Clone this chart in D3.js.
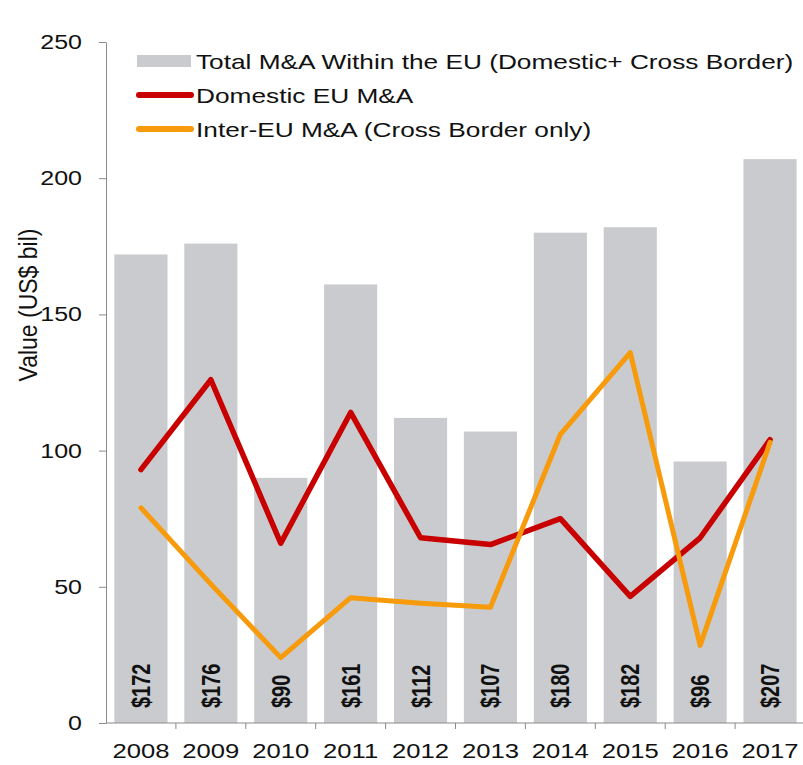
<!DOCTYPE html>
<html>
<head>
<meta charset="utf-8">
<script src="https://cdn.jsdelivr.net/npm/d3@7"></script>
<style>
  body { margin: 0; background: #fff; }
  text { font-family: "Liberation Sans", Arial, sans-serif; fill: #111; }
</style>
</head>
<body>
<div id="chart"></div>
<script>
const years = ["2008", "2009", "2010", "2011", "2012", "2013", "2014", "2015", "2016", "2017"];
const totalValues = [172, 176, 90, 161, 112, 107, 180, 182, 96, 207];
const domesticValues = [93, 126, 66, 114, 68, 65.5, 75, 46.5, 68, 104];
const interEuValues = [79, 51, 24, 46, 44, 42.5, 106, 136, 28.5, 103];
const yTicks = [0, 50, 100, 150, 200, 250];
const seriesNames = [
  "Total M&A Within the EU (Domestic+ Cross Border)",
  "Domestic EU M&A",
  "Inter-EU M&A (Cross Border only)"
];

const W = 803, H = 765;
const SX = 1.25; // source picture is stretched sideways

const barColor = "#c9cbce";
const red = "#c80000";
const orange = "#f79a0c";
const axisColor = "#8a8a8a";

const svg = d3.select("#chart")
  .append("svg")
  .attr("width", W)
  .attr("height", H);

const x = d3.scaleBand()
  .domain(years)
  .range([106, 805])
  .paddingInner(0.24)
  .paddingOuter(0.12);

const y = d3.scaleLinear()
  .domain([0, 250])
  .range([723, 42]);

// bars
svg.selectAll("rect.bar")
  .data(years)
  .enter()
  .append("rect")
  .attr("class", "bar")
  .attr("x", d => x(d))
  .attr("y", (d, i) => y(totalValues[i]))
  .attr("width", x.bandwidth())
  .attr("height", (d, i) => y(0) - y(totalValues[i]))
  .attr("fill", barColor);

// value labels inside bars
svg.selectAll("text.val")
  .data(years)
  .enter()
  .append("text")
  .attr("class", "val")
  .attr("transform", d => `translate(${x(d) + x.bandwidth() / 2},708) scale(${SX},1) rotate(-90)`)
  .attr("dy", "0.36em")
  .style("font-size", "20px")
  .style("font-weight", "bold")
  .text((d, i) => "$" + totalValues[i]);

// lines
const line = d3.line()
  .x(d => x(d[0]) + x.bandwidth() / 2)
  .y(d => y(d[1]));

svg.append("path")
  .datum(years.map((d, i) => [d, domesticValues[i]]))
  .attr("d", line)
  .attr("fill", "none")
  .attr("stroke", red)
  .attr("stroke-width", 5.5)
  .attr("stroke-linejoin", "round")
  .attr("stroke-linecap", "round");

svg.append("path")
  .datum(years.map((d, i) => [d, interEuValues[i]]))
  .attr("d", line)
  .attr("fill", "none")
  .attr("stroke", orange)
  .attr("stroke-width", 5)
  .attr("stroke-linejoin", "round")
  .attr("stroke-linecap", "round");

// y axis
const yAxis = svg.append("g")
  .attr("transform", "translate(106,0)")
  .call(d3.axisLeft(y).tickValues(yTicks).tickSize(7).tickSizeOuter(0));

yAxis.select(".domain").attr("stroke", axisColor);
yAxis.selectAll(".tick line").attr("stroke", axisColor);
yAxis.selectAll(".tick text")
  .attr("x", -24 / SX)
  .attr("transform", `scale(${SX},1)`)
  .style("font-size", "20px")
  .attr("fill", "#111");

// x axis
const xAxis = svg.append("g")
  .attr("transform", "translate(0,723)")
  .call(d3.axisBottom(x).tickSize(0).tickSizeOuter(0));

xAxis.select(".domain").attr("stroke", axisColor).attr("d", "M106,0H803");
xAxis.selectAll(".tick text")
  .attr("y", 20)
  .attr("transform", `scale(${SX},1)`)
  .style("font-size", "20.5px")
  .attr("fill", "#111");

// tick marks between the bands
const gap = (x.step() - x.bandwidth()) / 2;
xAxis.selectAll("line.sep")
  .data(years.slice(1))
  .enter()
  .append("line")
  .attr("class", "sep")
  .attr("x1", d => x(d) - gap)
  .attr("x2", d => x(d) - gap)
  .attr("y1", 0)
  .attr("y2", 6)
  .attr("stroke", axisColor);

// y axis title
svg.append("text")
  .attr("transform", "translate(28,305) scale(1.1,1) rotate(-90)")
  .attr("text-anchor", "middle")
  .attr("dy", "0.35em")
  .style("font-size", "23px")
  .text("Value (US$ bil)");

// legend
const legend = svg.append("g").attr("transform", "translate(137,61)");

legend.append("rect")
  .attr("x", 0)
  .attr("y", -6)
  .attr("width", 54)
  .attr("height", 12)
  .attr("fill", barColor);

[red, orange].forEach((c, i) => {
  legend.append("line")
    .attr("x1", 2)
    .attr("x2", 54)
    .attr("y1", 34 * (i + 1))
    .attr("y2", 34 * (i + 1))
    .attr("stroke", c)
    .attr("stroke-width", 6)
    .attr("stroke-linecap", "round");
});

legend.selectAll("text")
  .data(seriesNames)
  .enter()
  .append("text")
  .attr("transform", (d, i) => `translate(59,${34 * i}) scale(${SX},1)`)
  .attr("dy", "0.36em")
  .style("font-size", "21px")
  .text(d => d);
</script>
</body>
</html>
